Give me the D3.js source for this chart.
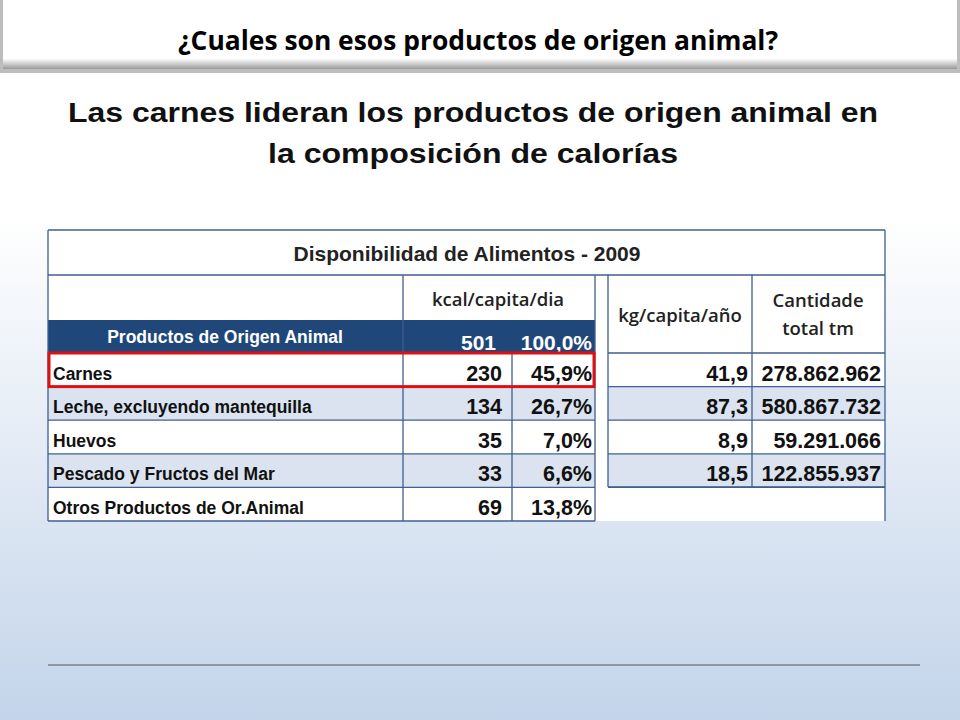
<!DOCTYPE html>
<html><head><meta charset="utf-8">
<script src="https://cdn.jsdelivr.net/npm/d3@7"></script>
<style>body{margin:0}svg{display:block}</style></head>
<body><script>
const categories=["Carnes","Leche, excluyendo mantequilla","Huevos","Pescado y Fructos del Mar","Otros Productos de Or.Animal"];
const kcal=[230,134,35,33,69];
const pct=["45,9%","26,7%","7,0%","6,6%","13,8%"];
const kg=["41,9","87,3","8,9","18,5",null];
const total=["278.862.962","580.867.732","59.291.066","122.855.937",null];
const W=960,H=720;
const svg=d3.select("body").append("svg").attr("width",W).attr("height",H);
const defs=svg.append("defs");
const g=defs.append("linearGradient").attr("id","bg").attr("x1",0).attr("x2",0).attr("y1",0).attr("y2",1);
g.append("stop").attr("offset","0%").attr("stop-color","#ffffff");
g.append("stop").attr("offset","30%").attr("stop-color","#ffffff");
g.append("stop").attr("offset","100%").attr("stop-color","#c3d4ea");
svg.append("rect").attr("width",W).attr("height",H).attr("fill","url(#bg)");
const sh=defs.append("linearGradient").attr("id","bn").attr("x1",0).attr("x2",0).attr("y1",0).attr("y2",1);
sh.append("stop").attr("offset","0%").attr("stop-color","#ffffff");
sh.append("stop").attr("offset","85%").attr("stop-color","#ffffff");
sh.append("stop").attr("offset","100%").attr("stop-color","#9a9a9a");
svg.append("rect").attr("x",0).attr("y",0).attr("width",W).attr("height",73).attr("fill","#bdbdbd");
svg.append("rect").attr("x",3).attr("y",0).attr("width",W-6).attr("height",69).attr("fill","url(#bn)");
svg.append("text").attr("x",178).attr("y",50).attr("textLength",600).attr("lengthAdjust","spacingAndGlyphs").attr("font-family","Open Sans, sans-serif").attr("font-weight","bold").attr("font-size",26).attr("fill","#000").text("¿Cuales son esos productos de origen animal?");
const F="Liberation Sans, Arial, sans-serif",FC="Open Sans, sans-serif";
svg.append("text").attr("x",68).attr("y",122).attr("textLength",810).attr("lengthAdjust","spacingAndGlyphs").attr("font-family",F).attr("font-weight","bold").attr("font-size",28).attr("fill","#111").text("Las carnes lideran los productos de origen animal en");
svg.append("text").attr("x",268).attr("y",163).attr("textLength",410).attr("lengthAdjust","spacingAndGlyphs").attr("font-family",F).attr("font-weight","bold").attr("font-size",28).attr("fill","#111").text("la composición de calorías");
const y=d3.scaleBand().domain(d3.range(5)).range([353,521]);
const lc="#3f5f8f";
const T=svg.append("g");
T.append("rect").attr("x",48).attr("y",230).attr("width",837).attr("height",291).attr("fill","#fff");
T.append("rect").attr("x",48).attr("y",320).attr("width",547).attr("height",33).attr("fill","#1f477a");
categories.forEach((c,i)=>{
  if(i%2==1){T.append("rect").attr("x",48).attr("y",y(i)).attr("width",547).attr("height",y.bandwidth()).attr("fill","#dae3ef");
    T.append("rect").attr("x",608).attr("y",y(i)).attr("width",277).attr("height",y.bandwidth()).attr("fill","#dae3ef");}
});
const L=(x1,y1,x2,y2)=>T.append("line").attr("x1",x1).attr("y1",y1).attr("x2",x2).attr("y2",y2).attr("stroke",lc).attr("stroke-width",1.3);
L(48,230,885,230);L(48,230,48,521);L(885,230,885,521);L(48,275,885,275);
L(403,275,403,521);L(595,275,595,521);L(512,353,512,521);L(608,275,608,487);L(752,275,752,487);
L(48,521,595,521);L(608,353,885,353);
d3.range(1,5).forEach(i=>{L(48,y(i),595,y(i));L(608,y(i),885,y(i));});
L(608,487,885,487);
T.append("text").attr("x",467).attr("y",261).attr("text-anchor","middle").attr("font-family",F).attr("font-weight","bold").attr("font-size",21).attr("fill","#222").text("Disponibilidad de Alimentos - 2009");
T.append("text").attr("x",498).attr("y",306).attr("text-anchor","middle").attr("font-family",FC).attr("font-weight","600").attr("font-size",18.5).attr("fill","#222").text("kcal/capita/dia");
T.append("text").attr("x",680).attr("y",322).attr("text-anchor","middle").attr("font-family",FC).attr("font-weight","600").attr("font-size",18.5).attr("fill","#222").text("kg/capita/año");
T.append("text").attr("x",818).attr("y",307).attr("text-anchor","middle").attr("font-family",FC).attr("font-weight","600").attr("font-size",18.5).attr("fill","#222").text("Cantidade");
T.append("text").attr("x",818).attr("y",335).attr("text-anchor","middle").attr("font-family",FC).attr("font-weight","600").attr("font-size",18.5).attr("fill","#222").text("total tm");
T.append("text").attr("x",225).attr("y",343).attr("text-anchor","middle").attr("font-family",F).attr("font-weight","bold").attr("font-size",17.5).attr("fill","#fff").text("Productos de Origen Animal");
T.append("text").attr("x",496).attr("y",350).attr("text-anchor","end").attr("font-family",F).attr("font-weight","bold").attr("font-size",21).attr("fill","#fff").text(d3.sum(kcal));
T.append("text").attr("x",592).attr("y",350).attr("text-anchor","end").attr("font-family",F).attr("font-weight","bold").attr("font-size",21).attr("fill","#fff").text("100,0%");
categories.forEach((c,i)=>{
  const by=y(i)+y.bandwidth()-6;
  T.append("text").attr("x",53).attr("y",by-1).attr("font-family",F).attr("font-weight","bold").attr("font-size",17.5).attr("fill","#111").text(c);
  T.append("text").attr("x",502).attr("y",by).attr("text-anchor","end").attr("font-family",F).attr("font-weight","bold").attr("font-size",21.5).attr("fill","#111").text(kcal[i]);
  T.append("text").attr("x",592).attr("y",by).attr("text-anchor","end").attr("font-family",F).attr("font-weight","bold").attr("font-size",21.5).attr("fill","#111").text(pct[i]);
  if(kg[i]){T.append("text").attr("x",748).attr("y",by).attr("text-anchor","end").attr("font-family",F).attr("font-weight","bold").attr("font-size",21.5).attr("fill","#111").text(kg[i]);
  T.append("text").attr("x",881).attr("y",by).attr("text-anchor","end").attr("font-family",F).attr("font-weight","bold").attr("font-size",21.5).attr("fill","#111").text(total[i]);}
});
T.append("rect").attr("x",49).attr("y",y(0)).attr("width",545).attr("height",y.bandwidth()).attr("fill","none").attr("stroke","#e01010").attr("stroke-width",3);
svg.append("line").attr("x1",48).attr("x2",920).attr("y1",665).attr("y2",665).attr("stroke","#555").attr("stroke-width",1);
</script></body></html>
